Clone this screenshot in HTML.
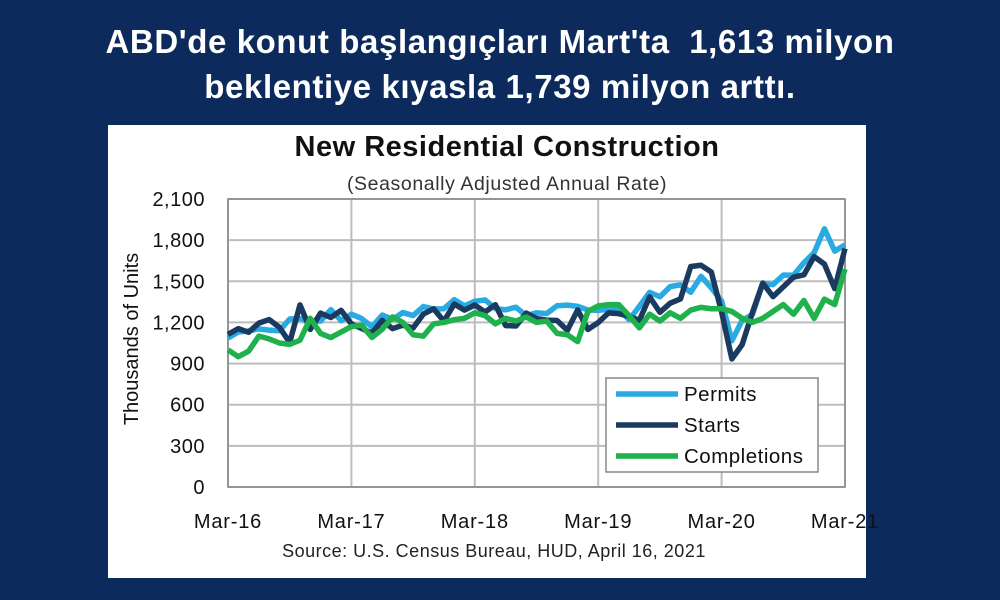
<!DOCTYPE html>
<html><head><meta charset="utf-8"><style>
body{margin:0;width:1000px;height:600px;background:#0c2a5c;overflow:hidden;font-family:"Liberation Sans",sans-serif}
#h{position:absolute;left:0;width:1000px;text-align:center;color:#fff;font-weight:bold;font-size:33px;letter-spacing:0.6px;line-height:45px;top:19px}
#panel{position:absolute;left:108px;top:125px;width:758px;height:453px;background:#fff}
</style></head><body>
<div id="h">ABD'de konut başlangıçları Mart'ta&nbsp; 1,613 milyon<br>beklentiye kıyasla 1,739 milyon arttı.</div>
<div id="panel"></div>
<svg id="c" width="1000" height="600" style="position:absolute;left:0;top:0"></svg>
<script>
const xLabels=["Mar-16","Mar-17","Mar-18","Mar-19","Mar-20","Mar-21"];
const yTicks=[0,300,600,900,1200,1500,1800,2100];
const permits=[1086,1130,1138,1153,1144,1139,1225,1229,1201,1210,1293,1213,1260,1228,1168,1254,1223,1272,1250,1316,1298,1300,1366,1321,1354,1364,1301,1292,1311,1249,1270,1265,1322,1326,1317,1291,1288,1296,1299,1220,1317,1419,1387,1461,1474,1420,1536,1452,1356,1066,1216,1258,1483,1476,1545,1545,1635,1709,1883,1720,1766];
const starts=[1113,1155,1128,1195,1221,1164,1054,1328,1149,1268,1236,1288,1189,1156,1122,1215,1155,1180,1159,1261,1299,1209,1334,1290,1327,1276,1329,1177,1174,1268,1228,1217,1214,1142,1291,1149,1199,1270,1264,1245,1215,1386,1274,1340,1371,1608,1617,1567,1276,934,1038,1273,1487,1388,1459,1530,1547,1680,1625,1447,1739];
const completions=[1000,950,990,1100,1080,1050,1040,1070,1230,1120,1090,1130,1170,1180,1090,1150,1240,1200,1110,1100,1190,1200,1220,1230,1270,1250,1190,1230,1210,1240,1200,1210,1120,1110,1060,1280,1320,1330,1330,1250,1160,1260,1210,1270,1230,1290,1310,1300,1300,1280,1230,1200,1230,1280,1330,1260,1360,1230,1370,1330,1590];
const L=228,R=845,T=199,B=487;
const x=i=>L+(R-L)*i/60, y=v=>B-(B-T)*v/2100;
const svg=document.getElementById('c'),NS="http://www.w3.org/2000/svg";
function mk(t,a,p){const e=document.createElementNS(NS,t);for(const k in a)e.setAttribute(k,a[k]);(p||svg).appendChild(e);return e;}
let e;
e=mk('text',{x:507,y:156,'text-anchor':'middle','font-size':29,'font-weight':'bold',fill:'#111','letter-spacing':0.5});e.textContent="New Residential Construction";


e=mk('text',{x:507,y:190,'text-anchor':'middle','font-size':19.5,fill:'#333','letter-spacing':0.6});e.textContent="(Seasonally Adjusted Annual Rate)";


yTicks.forEach(v=>{
 e=mk('line',{x1:L,x2:R,y1:y(v),y2:y(v),stroke:'#bdbdbd','stroke-width':2});
 
 
 e=mk('text',{x:205,y:y(v)+7,'text-anchor':'end','font-size':20,fill:'#111','letter-spacing':0.5});e.textContent=v.toLocaleString('en-US');
 
 
});
xLabels.forEach((s,i)=>{
 e=mk('line',{x1:x(i*12),x2:x(i*12),y1:T,y2:B,stroke:'#bdbdbd','stroke-width':2});
 
 
 e=mk('text',{x:x(i*12),y:528,'text-anchor':'middle','font-size':20,fill:'#111','letter-spacing':0.8});e.textContent=s;
 
 
});
e=mk('rect',{x:L,y:T,width:R-L,height:B-T,fill:'none',stroke:'#888','stroke-width':1.5});


e=mk('text',{x:0,y:0,'text-anchor':'middle','font-size':20,fill:'#111',transform:'translate(138,339) rotate(-90)'});e.textContent="Thousands of Units";


const series=[["permits",permits,"#29aae2"],["starts",starts,"#1b3a60"],["completions",completions,"#1fb14b"]];
series.forEach(([n,d,c])=>{
 e=mk('polyline',{points:d.map((v,i)=>x(i)+','+y(v)).join(' '),fill:'none',stroke:c,'stroke-width':5.5,'stroke-linejoin':'round'});
 
 
});
e=mk('rect',{x:606,y:378,width:212,height:94,fill:'#fff',stroke:'#888','stroke-width':1.5});


[["Permits","#29aae2"],["Starts","#1b3a60"],["Completions","#1fb14b"]].forEach(([s,c],i)=>{
 const yy=394+i*31;
 e=mk('line',{x1:616,x2:678,y1:yy,y2:yy,stroke:c,'stroke-width':5.5});
 
 
 e=mk('text',{x:684,y:yy+7,'font-size':20.5,fill:'#111','letter-spacing':0.5});e.textContent=s;
 
 
});
e=mk('text',{x:494,y:557,'text-anchor':'middle','font-size':18,fill:'#222','letter-spacing':0.5});e.textContent="Source:  U.S. Census Bureau, HUD, April 16, 2021";


</script>
</body></html>
